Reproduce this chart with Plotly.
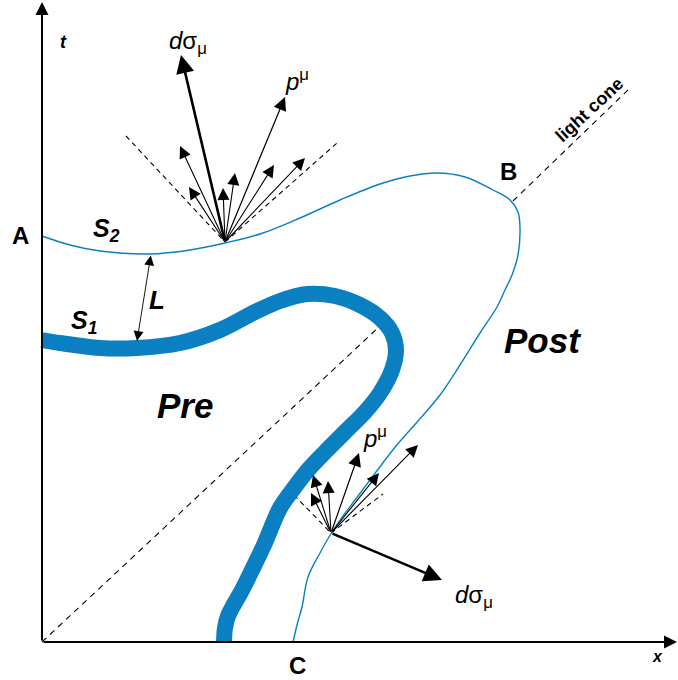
import plotly.graph_objects as go

# ---- geometry of the space-time sketch (x to the right, t upwards; y grows downwards) ----
# hypersurface S2 (thin) running from A over B down to C
S2_x = [42, 70, 100, 150, 190, 225, 260, 300, 340, 380, 410, 437, 465, 493, 510, 518, 520, 518,
        512, 505, 497, 480, 460, 440, 418, 396, 376, 358, 343, 332, 320, 308, 302, 297, 293]
S2_y = [236, 245, 251, 254, 250, 243, 234, 218, 200, 184, 176, 173, 177, 190, 200, 212, 228, 255,
        275, 290, 307, 333, 365, 395, 421, 446, 472, 496, 516, 532, 553, 577, 607, 625, 642]

# hypersurface S1 (thick)
S1_x = [42, 60, 100, 137, 180, 220, 255, 280, 307, 335, 360, 380, 392, 396, 392, 380, 365, 345,
        325, 308, 294, 280, 264, 251, 241, 233, 228, 225, 224]
S1_y = [340, 343, 348, 348, 343, 330, 312, 301, 294, 296, 305, 318, 333, 350, 370, 393, 412, 432,
        452, 470, 488, 508, 545, 572, 592, 606, 616, 628, 642]

# light-cone lines
cone1_x, cone1_y = [42, 380], [642, 326]
cone2_x, cone2_y = [513, 629], [201, 89]

# arrow fan on the upper surface
fan1_origin = (225, 242)
fan1_tips_x = [180, 189, 223, 235, 274, 305]
fan1_tips_y = [146, 187, 188, 173, 165, 158]
fan1_p = (285, 97)
fan1_dsigma = (181, 55)
fan1_dash_x = [[126, 225], [225, 337]]
fan1_dash_y = [[136, 242], [242, 143]]

# arrow fan on the lower-right surface
fan2_origin = (331, 533)
fan2_tips_x = [313, 328, 311, 379, 418]
fan2_tips_y = [475, 481, 493, 473, 445]
fan2_p = (359, 453)
fan2_dsigma = (442, 580)
fan2_dash_x = [[294, 331], [331, 383]]
fan2_dash_y = [[495, 533], [533, 494]]

# separation L between the surfaces
L_a, L_b = (151, 254), (137, 341)

# coordinate axes
origin = (42, 642)
t_end = (42, 2)
x_end = (677, 642)

BLUE = "#0a80c2"
FONT = "Liberation Sans"

fig = go.Figure()

# light cone dashed lines
for xs, ys in [(cone1_x, cone1_y), (cone2_x, cone2_y)]:
    fig.add_trace(go.Scatter(x=xs, y=ys, mode="lines",
                             line=dict(color="black", width=1.1, dash="6px,5px")))
for xs_list, ys_list in [(fan1_dash_x, fan1_dash_y), (fan2_dash_x, fan2_dash_y)]:
    for xs, ys in zip(xs_list, ys_list):
        fig.add_trace(go.Scatter(x=xs, y=ys, mode="lines",
                                 line=dict(color="black", width=1.1, dash="5px,4px")))

# surfaces
fig.add_trace(go.Scatter(x=S1_x, y=S1_y, mode="lines",
                         line=dict(color=BLUE, width=16, shape="spline", smoothing=1.0)))
fig.add_trace(go.Scatter(x=S2_x, y=S2_y, mode="lines",
                         line=dict(color=BLUE, width=1.4, shape="spline", smoothing=1.0)))

annotations = []


def arrow(tip, tail, width=1.0, size=2.4, head=2, start=False):
    annotations.append(dict(
        x=tip[0], y=tip[1], ax=tail[0], ay=tail[1],
        xref="x", yref="y", axref="x", ayref="y",
        showarrow=True, arrowhead=head, arrowsize=size, arrowwidth=width,
        arrowcolor="black", standoff=0, startstandoff=0, text="",
        startarrowhead=head if start else None,
        startarrowsize=size if start else None,
        arrowside="end+start" if start else "end"))


# axes
arrow(t_end, origin, width=2, size=1.3)
arrow(x_end, origin, width=2, size=1.3)

# fans
for tx, ty in zip(fan1_tips_x, fan1_tips_y):
    arrow((tx, ty), fan1_origin, width=1.1, size=2.2)
arrow(fan1_p, fan1_origin, width=1.2, size=2.2)
arrow(fan1_dsigma, fan1_origin, width=2.6, size=1.4)

for tx, ty in zip(fan2_tips_x, fan2_tips_y):
    arrow((tx, ty), fan2_origin, width=1.1, size=2.2)
arrow(fan2_p, fan2_origin, width=1.2, size=2.2)
arrow(fan2_dsigma, fan2_origin, width=2.6, size=1.4)

# separation L
arrow(L_b, L_a, width=0.9, size=2.2, start=True)


def label(x, y, text, size, angle=0):
    annotations.append(dict(x=x, y=y, xref="x", yref="y", text=text, showarrow=False,
                            font=dict(family=FONT, size=size, color="black"),
                            textangle=angle, xanchor="center", yanchor="middle"))


label(20, 235, "<b>A</b>", 24)
label(508, 171, "<b>B</b>", 24)
label(297, 665, "<b>C</b>", 24)
label(63, 42, "<b><i>t</i></b>", 18)
label(657, 656, "<b><i>x</i></b>", 16)
label(106, 230, "<b><i>S</i></b><sub><b><i>2</i></b></sub>", 25)
label(84, 322, "<b><i>S</i></b><sub><b><i>1</i></b></sub>", 25)
label(157, 300, "<b><i>L</i></b>", 26)
label(185, 405, "<b><i>Pre</i></b>", 35)
label(542, 340, "<b><i>Post</i></b>", 35)
label(589, 110, "<b>light cone</b>", 18, angle=-43)
label(188, 42, "<i>d</i>σ<sub>μ</sub>", 24)
label(297, 80, "<i>p</i><sup>μ</sup>", 24)
label(375, 437, "<i>p</i><sup>μ</sup>", 24)
label(474, 596, "<i>d</i>σ<sub>μ</sub>", 24)

fig.update_layout(
    width=678, height=680,
    margin=dict(l=0, r=0, t=0, b=0),
    paper_bgcolor="white", plot_bgcolor="white",
    showlegend=False,
    xaxis=dict(range=[0, 678], visible=False, fixedrange=True),
    yaxis=dict(range=[680, 0], visible=False, fixedrange=True),
    annotations=annotations,
)

fig.write_html("out.html")
